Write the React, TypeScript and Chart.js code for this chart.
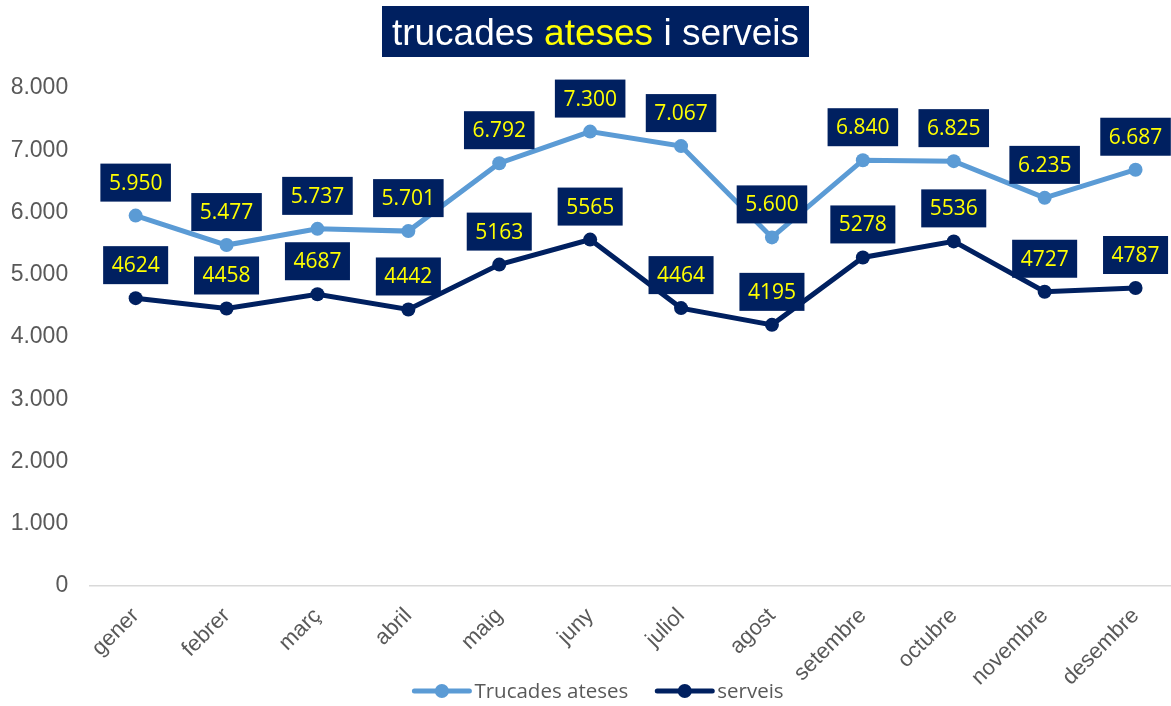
import React, { useEffect, useRef } from "react";
import { Chart, registerables } from "chart.js";

Chart.register(...registerables);

const months = ["gener", "febrer", "març", "abril", "maig", "juny", "juliol", "agost", "setembre", "octubre", "novembre", "desembre"];
const trucadesAteses = [5950, 5477, 5737, 5701, 6792, 7300, 7067, 5600, 6840, 6825, 6235, 6687];
const serveis = [4624, 4458, 4687, 4442, 5163, 5565, 4464, 4195, 5278, 5536, 4727, 4787];
const seriesNames = ["Trucades ateses", "serveis"];
const yTicks = [0, 1000, 2000, 3000, 4000, 5000, 6000, 7000, 8000];

const LIGHT = "#5B9BD5";
const NAVY = "#002060";
const YELLOW = "#FFFF00";
const GRAY = "#595959";

const fmtDots = (v: number) => String(v).replace(/\B(?=(\d{3})+(?!\d))/g, ".");

const titlePlugin = {
  id: "titleBox",
  afterDraw(chart: any) {
    const ctx = chart.ctx;
    ctx.save();
    ctx.fillStyle = NAVY;
    ctx.fillRect(382, 6, 427, 51);
    ctx.font = "37px 'Liberation Sans', Arial, sans-serif";
    ctx.textBaseline = "alphabetic";
    ctx.textAlign = "left";
    const parts: [string, string][] = [["trucades ", "#FFFFFF"], ["ateses", YELLOW], [" i serveis", "#FFFFFF"]];
    const total = parts.reduce((s, p) => s + ctx.measureText(p[0]).width, 0);
    let x = 595.5 - total / 2;
    for (const [t, c] of parts) {
      ctx.fillStyle = c;
      ctx.fillText(t, x, 45);
      x += ctx.measureText(t).width;
    }
    ctx.restore();
  },
};

const labelPlugin = {
  id: "boxLabels",
  afterDatasetsDraw(chart: any) {
    const ctx = chart.ctx;
    ctx.save();
    ctx.font = "21px 'Open Sans', sans-serif";
    ctx.textAlign = "center";
    ctx.textBaseline = "middle";
    chart.data.datasets.forEach((ds: any, i: number) => {
      const meta = chart.getDatasetMeta(i);
      meta.data.forEach((pt: any, j: number) => {
        const v = ds.data[j] as number;
        const txt = i === 0 ? fmtDots(v) : String(v);
        const w = ctx.measureText(txt).width + 17;
        const h = 38;
        const bottom = pt.y - 14;
        ctx.fillStyle = NAVY;
        ctx.fillRect(pt.x - w / 2, bottom - h, w, h);
        ctx.fillStyle = YELLOW;
        ctx.fillText(txt, pt.x, bottom - h / 2 + 1);
      });
    });
    ctx.restore();
  },
};

const legendPlugin = {
  id: "customLegend",
  afterDraw(chart: any) {
    const ctx = chart.ctx;
    ctx.save();
    ctx.font = "20.5px 'Open Sans', sans-serif";
    const colors = [LIGHT, NAVY];
    const lineLen = 55;
    const gap = 5;
    const itemGap = 29;
    const widths = seriesNames.map((n) => lineLen + gap + ctx.measureText(n).width);
    const total = widths.reduce((a, b) => a + b, 0) + itemGap;
    let x = 599 - total / 2;
    const y = 691;
    seriesNames.forEach((n, i) => {
      ctx.strokeStyle = colors[i];
      ctx.lineWidth = 5;
      ctx.lineCap = "round";
      ctx.beginPath();
      ctx.moveTo(x, y);
      ctx.lineTo(x + lineLen, y);
      ctx.stroke();
      ctx.fillStyle = colors[i];
      ctx.beginPath();
      ctx.arc(x + lineLen / 2, y, 7, 0, Math.PI * 2);
      ctx.fill();
      ctx.fillStyle = GRAY;
      ctx.textAlign = "left";
      ctx.textBaseline = "middle";
      ctx.fillText(n, x + lineLen + gap, y + 1);
      x += widths[i] + itemGap;
    });
    ctx.restore();
  },
};

export default function App() {
  const ref = useRef<HTMLCanvasElement>(null);
  useEffect(() => {
    if (!ref.current) return;
    const chart = new Chart(ref.current, {
      type: "line",
      data: {
        labels: months,
        datasets: [
          {
            label: seriesNames[0],
            data: trucadesAteses,
            borderColor: LIGHT,
            backgroundColor: LIGHT,
            borderWidth: 5,
            pointRadius: 7,
            pointBorderWidth: 0,
            tension: 0,
          },
          {
            label: seriesNames[1],
            data: serveis,
            borderColor: NAVY,
            backgroundColor: NAVY,
            borderWidth: 5,
            pointRadius: 7,
            pointBorderWidth: 0,
            tension: 0,
          },
        ],
      },
      options: {
        responsive: false,
        animation: false,
        layout: { padding: { top: 88, bottom: 20, left: 0, right: 0 } },
        plugins: { legend: { display: false }, tooltip: { enabled: false }, title: { display: false } },
        scales: {
          x: {
            offset: true,
            grid: { display: false, drawTicks: false },
            border: { display: true, color: "#D9D9D9", width: 1.5 },
            ticks: {
              color: GRAY,
              font: { family: "'Liberation Sans', Arial, sans-serif", size: 22 },
              minRotation: 45,
              maxRotation: 45,
              padding: 17,
              autoSkip: false,
            },
            afterFit: (s: any) => {
              s.height = 100;
            },
          },
          y: {
            min: 0,
            max: 8000,
            grid: { display: false, drawTicks: false },
            border: { display: false },
            afterBuildTicks: (s: any) => {
              s.ticks = yTicks.map((v) => ({ value: v }));
            },
            ticks: {
              color: GRAY,
              font: { family: "'Liberation Sans', Arial, sans-serif", size: 23 },
              padding: 22,
              callback: (v: any) => fmtDots(Number(v)),
            },
            afterFit: (s: any) => {
              s.width = 90.2;
            },
          },
        },
      },
      plugins: [titlePlugin, labelPlugin, legendPlugin],
    });
    return () => chart.destroy();
  }, []);
  return (
    <div style={{ position: "fixed", left: 0, top: 0, width: 1171, height: 706, overflow: "hidden", background: "#fff" }}>
      <canvas ref={ref} width={1188} height={706} style={{ display: "block", width: 1188, height: 706 }} />
    </div>
  );
}
